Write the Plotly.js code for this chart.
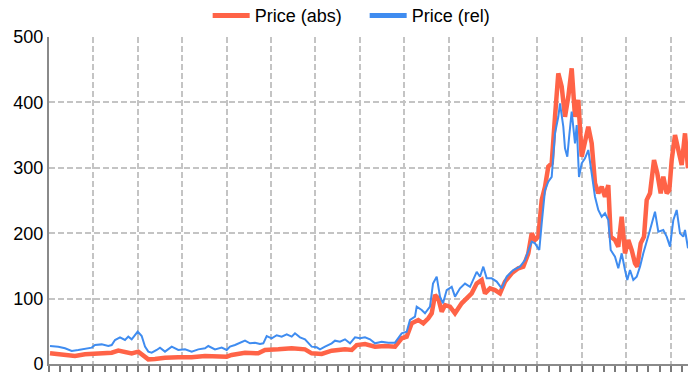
<!DOCTYPE html>
<html>
<head>
<meta charset="utf-8">
<script src="https://cdn.plot.ly/plotly-3.0.1.min.js"></script>
<style>html,body{margin:0;padding:0;background:#fff;}#chart{width:694px;height:373px;}</style>
</head>
<body>
<div id="chart"></div>
<script>
// Sample position along the time axis (arbitrary units, 0..639) and prices
const absT = [1, 16, 26, 36, 46, 56, 62.7, 69.3, 76, 82.7, 89.3, 94.3, 99.3, 106, 116, 129.3, 142.7, 156, 169.3, 177.7, 182.7, 196, 209.3, 216, 229.3, 242.7, 256, 262.7, 272.7, 282.7, 296, 302.7, 307.7, 316, 326, 336, 346,
  352.7, 357.7, 362.7, 369.3, 374.3, 379.3, 382.7, 386, 389.3, 392.7, 396, 401, 406, 412.7, 417.7, 422.7, 427.7, 432.7, 436, 441, 446, 451, 456, 462.7, 469.3, 474.3, 479.3, 482.7, 486, 489.3,
  492.7, 496, 499.3, 502.7, 506, 509.3, 512.7, 516, 519.3, 522.7, 526, 529.3, 532.7, 536, 539.3, 542.7, 546, 549.3, 552.7, 556, 559.3, 561.7, 566, 569.3, 572.7, 576, 579.3, 582.7, 586, 588.3, 591.7, 595, 597.7, 601, 605, 608.3, 611.7, 614.3, 617.7, 620.3, 622.7, 626, 629.3, 632.7, 636, 639];
const absPrice = [16.3, 13.8, 12.2, 14.8, 16.3, 16.3, 17.3, 20.4, 18.9, 16.3, 18.9, 13.8, 7.1, 7.6, 9.7, 10.2, 10.2, 12.2, 12.2, 11.2, 13.8, 17.3, 16.3, 21.4, 22.4, 24, 22.4, 16.3, 15.3, 20.4, 22.4, 21.4, 29, 30.6, 26.5, 27.5, 26.5,
  39.3, 41.8, 62.2, 67.3, 62.2, 69.9, 77.5, 105.5, 100.4, 80, 90, 87.7, 77.5, 92.8, 100.4, 108, 123, 128.4, 108, 115.7, 113, 108, 126, 138.7, 146.3, 148.8, 169, 199.8, 189.6, 194.7,
  250.8, 271, 301.7, 306.9, 378, 444.5, 424, 378, 408.7, 452, 378, 403.7, 317, 337.4, 362.9, 337.4, 276.3, 261, 271, 255.8, 273.7, 194.7, 189.6, 179.4, 225.2, 169.2, 189.6, 174.3, 154, 148.8, 184.5, 194.7, 250.8, 261, 312, 291.6, 261, 286.4, 261, 266, 312, 350, 327.2, 304.3, 352.7, 299.2];

const relT = [1, 9.3, 16, 22.7, 29.3, 36, 42.7, 46, 52.7, 59.3, 62.7, 66, 71, 76, 79.3, 82.7, 86, 88.7, 92.7, 96, 99.3, 102.7, 107.7, 111, 116, 122.7, 129.3, 136, 142.7, 149.3, 156, 159.3, 166, 172.7, 177.7, 181, 186, 191, 196, 201, 206, 211, 214.3, 217.7, 222.7, 227.7, 232.7, 237.7, 242.7, 246, 251, 256, 259.3, 262.7, 267.7, 271, 276, 282.7, 286, 291, 296, 301, 306, 311, 316, 321, 326, 332.7, 339.3, 346,
  352.7, 357.7, 361, 366, 367.7, 372.7, 376, 381, 384, 387.7, 391, 394, 397.7, 402.7, 406, 411, 416, 421, 427.7, 431, 434.3, 437.7, 442.7, 447.7, 452.7, 457.7, 464.3, 471, 476, 479.3, 482.7, 486, 490.3,
  492.7, 496, 499.3, 502.7, 506, 509.3, 511, 514.3, 516, 518.3, 520.3, 522.7, 526, 527.7, 530, 532.7, 536, 539.3, 542.7, 546, 549.3, 552.7, 556, 559.3, 561.7, 566, 569.3, 572.7, 576, 578.3, 581, 584.3, 587.7, 591, 594.3, 597.7, 601, 606, 609.3, 614.3, 617.7, 621, 624.3, 627.7, 631, 634.3, 636, 639];
const relPrice = [27.5, 26.5, 24, 20, 21.4, 23, 25, 29, 30, 27.5, 29, 36.7, 40.8, 36.7, 41.8, 37.7, 44, 49.5, 42.8, 26.5, 18.9, 17.3, 21.4, 25, 18.9, 26.5, 21.4, 22.4, 18.9, 22.4, 24, 27.5, 22.4, 25, 21.4, 26.5, 29, 32.6, 35.7, 31.6, 32.6, 30.6, 31.6, 42.8, 39.3, 44, 41.8, 45.4, 41.8, 46.9, 40.8, 37.7, 32.6, 26.5, 25.5, 22.4, 26.5, 31.6, 35.7, 34, 37.7, 31.6, 40.8, 39.3, 40.8, 37.7, 31.6, 34, 32.6, 32.6,
  46.9, 49.4, 67.3, 72.4, 87.7, 82.6, 77.5, 87.7, 123, 133.5, 103, 92.8, 113, 118, 103, 115.7, 123, 118, 141, 133.5, 148.8, 131, 131, 126, 115.7, 133.5, 143.7, 148.8, 159, 171.7, 187, 184.5, 174.3,
  215, 266, 278.8, 286, 352.7, 378, 398.6, 362.9, 329.8, 317, 350, 385.8, 337.4, 365.4, 286, 306.9, 314.5, 327.2, 291.6, 255.8, 235.5, 225.2, 230.4, 220, 174.3, 164, 146.3, 169.2, 143.7, 128.4, 143.7, 128.4, 133.5, 148.8, 169.2, 189.6, 204.9, 232.9, 202.3, 204.9, 194.7, 179.4, 220, 235.5, 199.8, 194.7, 204.9, 177];

const seriesNames = ['Price (abs)', 'Price (rel)'];
const seriesColors = ['#ff6347', '#3f8cf0'];
const yTicks = [0, 100, 200, 300, 400, 500];

const FONT = 'Liberation Sans, Arial, Helvetica, sans-serif';
const gridColor = '#c4c4c4';

const data = [
  {x: absT, y: absPrice, name: seriesNames[0], type: 'scatter', mode: 'lines', showlegend: false,
   line: {color: seriesColors[0], width: 4.5}},
  {x: relT, y: relPrice, name: seriesNames[1], type: 'scatter', mode: 'lines', showlegend: false,
   line: {color: seriesColors[1], width: 2}},
  // legend entries (thick swatches, as in the reference legend)
  {x: [null], y: [null], name: seriesNames[0], type: 'scatter', mode: 'lines', hoverinfo: 'skip',
   line: {color: seriesColors[0], width: 5}},
  {x: [null], y: [null], name: seriesNames[1], type: 'scatter', mode: 'lines', hoverinfo: 'skip',
   line: {color: seriesColors[1], width: 5}}
];

const layout = {
  width: 694, height: 373,
  margin: {l: 49, r: 6, t: 37, b: 9, pad: 0, autoexpand: false},
  paper_bgcolor: '#fff', plot_bgcolor: '#fff',
  font: {family: FONT, size: 18, color: '#000'},
  showlegend: true,
  legend: {orientation: 'h', x: 0.494, xanchor: 'center', y: 1.065, yanchor: 'middle',
           itemwidth: 37, entrywidth: 105, entrywidthmode: 'pixels',
           font: {family: FONT, size: 18, color: '#000'}, bgcolor: 'rgba(0,0,0,0)'},
  xaxis: {
    range: [0, 639], showline: true, linecolor: '#8a8a8a', linewidth: 2,
    showgrid: true, gridcolor: gridColor, gridwidth: 2, griddash: '6px,3px',
    tick0: 0, dtick: 44.4, ticks: 'outside', ticklen: 6, tickwidth: 2, tickcolor: '#7a7a7a',
    showticklabels: false, zeroline: false, fixedrange: true,
    minor: {tick0: 0, dtick: 11.1, ticks: 'outside', ticklen: 6, tickwidth: 2, tickcolor: '#7a7a7a', showgrid: false}
  },
  yaxis: {
    range: [0, 500], tickvals: yTicks, ticktext: yTicks.map(String),
    showline: true, linecolor: '#8a8a8a', linewidth: 2,
    showgrid: true, gridcolor: gridColor, gridwidth: 2, griddash: '6px,3px',
    ticks: '', tickfont: {family: FONT, size: 18, color: '#000'}, ticklabeloverflow: 'allow',
    zeroline: false, fixedrange: true
  }
};

Plotly.newPlot('chart', data, layout, {displayModeBar: false, staticPlot: true});
</script>
</body>
</html>
